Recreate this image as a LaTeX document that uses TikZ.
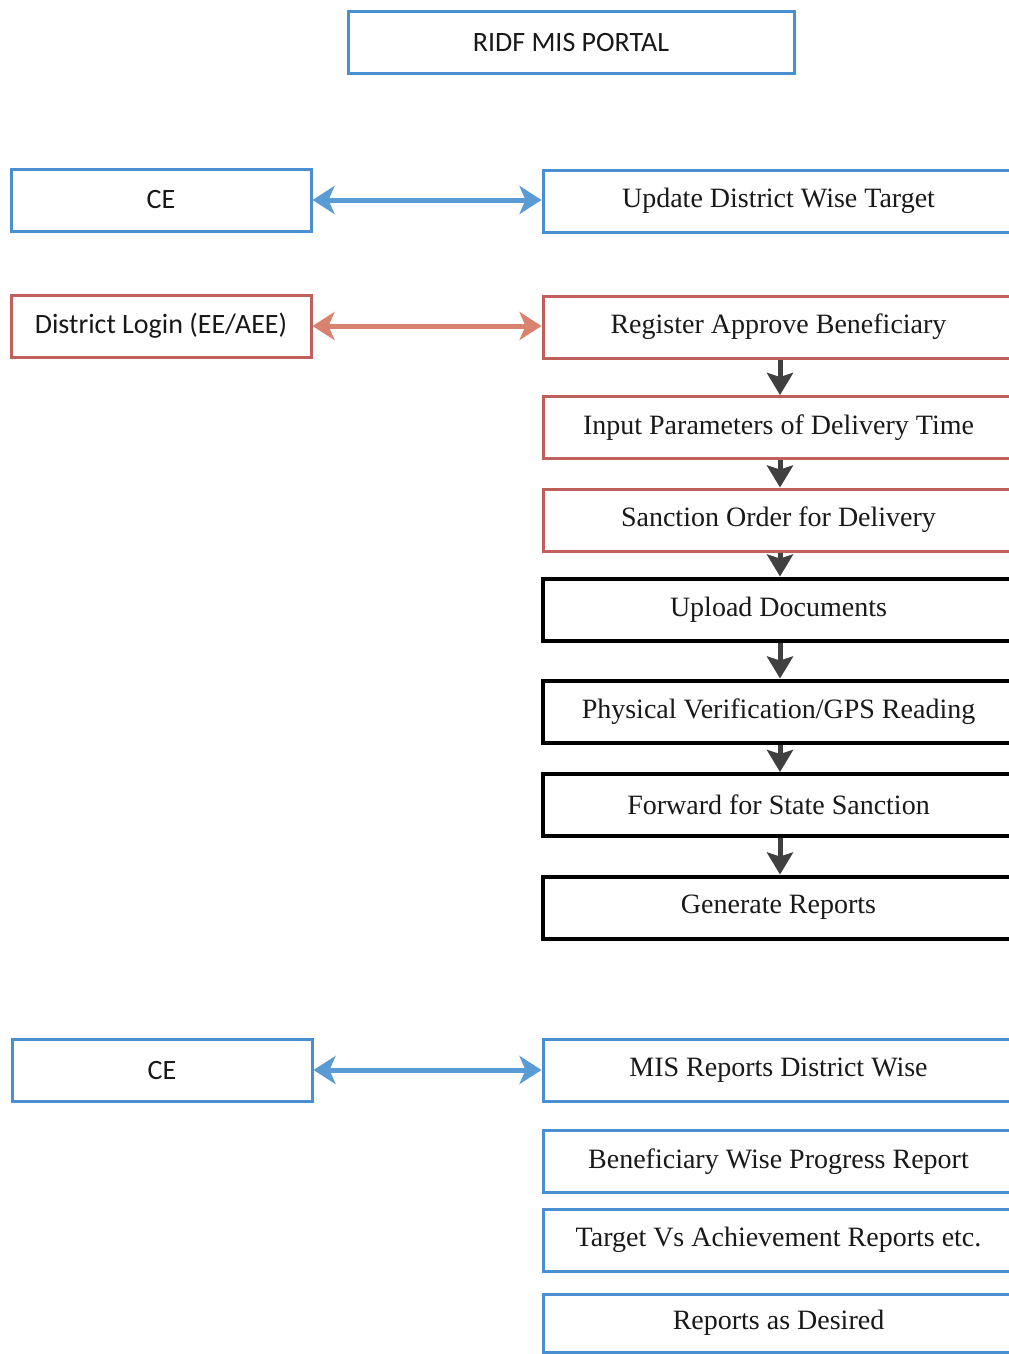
\documentclass[tikz,border=0pt]{standalone}
\usepackage{fontspec}
\setmainfont{Liberation Serif}
\newfontfamily\calibri{Carlito}
\usetikzlibrary{arrows.meta}
\definecolor{boxblue}{HTML}{4A8FCF}
\definecolor{boxred}{HTML}{C0605A}
\definecolor{arrblue}{HTML}{5B9BD5}
\definecolor{arrred}{HTML}{D9826F}
\definecolor{arrgray}{HTML}{404040}
\begin{document}
\begin{tikzpicture}[x=0.5pt,y=-0.5pt,
  box/.style={draw=#1,line width=1.5pt,minimum height=31pt,inner sep=0pt,fill=white,text=black!90,font=\fontsize{14}{17}\selectfont},
  sidebox/.style={box=#1,minimum width=150pt,font=\calibri\fontsize{14}{17}\selectfont},
  stepbox/.style={box=#1,minimum width=235.5pt},
  link/.style={{Stealth[length=11pt,width=14pt,inset=3pt]}-{Stealth[length=11pt,width=14pt,inset=3pt]},line width=2.5pt,draw=#1},
  down/.style={-{Stealth[length=11pt,width=13pt,inset=2pt]},line width=2.5pt,draw=arrgray}]
\useasboundingbox (0,0) rectangle (1008,1354);
\fill[white] (0,0) rectangle (1008,1354);
% top
\node[box=boxblue,minimum width=223pt,font=\calibri\fontsize{14}{17}\selectfont] (portal) at (571,42.5) {RIDF MIS PORTAL};
% CE and district rows
\node[sidebox=boxblue] (ce1) at (161,200) {CE};
\node[stepbox=boxblue] (target) at (778.5,201) {Update District Wise Target};
\node[sidebox=boxred] (district) at (161,326) {District Login (EE/AEE)};
\node[stepbox=boxred] (register) at (778.5,327) {Register Approve Beneficiary};
\node[stepbox=boxred] (input) at (778.5,427.5) {Input Parameters of Delivery Time};
\node[stepbox=boxred] (sanction) at (778.5,520) {Sanction Order for Delivery};
\node[stepbox=black,line width=2pt] (upload) at (778.5,609.5) {Upload Documents};
\node[stepbox=black,line width=2pt] (verify) at (778.5,711.5) {Physical Verification/GPS Reading};
\node[stepbox=black,line width=2pt] (forward) at (778.5,805) {Forward for State Sanction};
\node[stepbox=black,line width=2pt] (generate) at (778.5,907.5) {Generate Reports};
% reports
\node[sidebox=boxblue] (ce2) at (162,1070) {CE};
\node[stepbox=boxblue] (mis) at (778.5,1070.5) {MIS Reports District Wise};
\node[stepbox=boxblue] (progress) at (778.5,1161.5) {Beneficiary Wise Progress Report};
\node[stepbox=boxblue] (achieve) at (778.5,1240) {Target Vs Achievement Reports etc.};
\node[stepbox=boxblue,minimum height=29pt] (desired) at (778.5,1323) {Reports as Desired};
% connectors
\draw[link=arrblue] (ce1.east) -- (target.west |- ce1.east);
\draw[link=arrred] (district.east) -- (register.west |- district.east);
\draw[link=arrblue] (ce2.east) -- (mis.west |- ce2.east);
\draw[down] (register.south -| 780,0) -- (input.north -| 780,0);
\draw[down] (input.south -| 780,0) -- (sanction.north -| 780,0);
\draw[down] (sanction.south -| 780,0) -- (upload.north -| 780,0);
\draw[down] (upload.south -| 780,0) -- (verify.north -| 780,0);
\draw[down] (verify.south -| 780,0) -- (forward.north -| 780,0);
\draw[down] (forward.south -| 780,0) -- (generate.north -| 780,0);
\end{tikzpicture}
\end{document}
